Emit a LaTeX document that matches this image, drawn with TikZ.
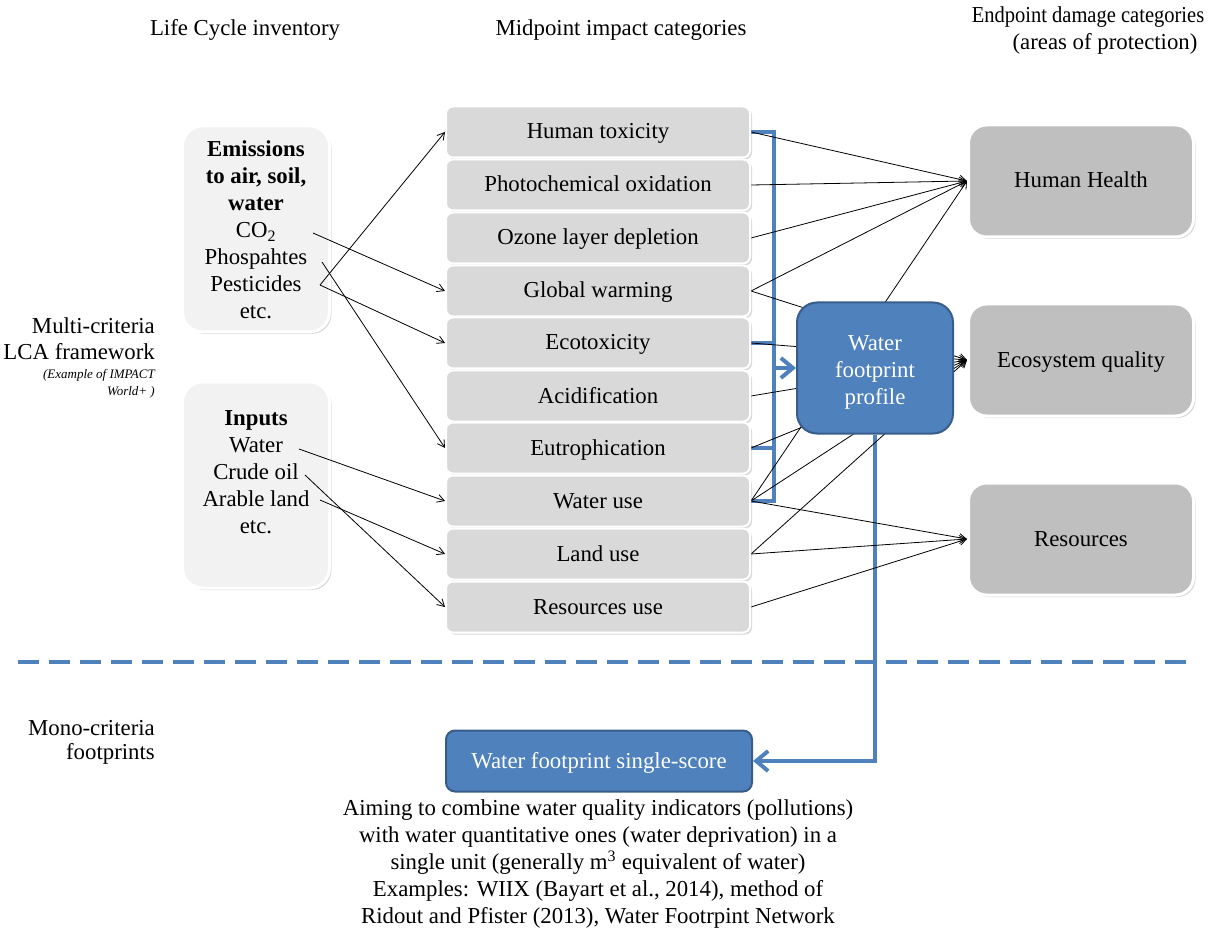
\documentclass[tikz,border=0pt]{standalone}
\usepackage{fontspec}
\setmainfont{Liberation Serif}
\usetikzlibrary{arrows.meta,shadows,calc}
\definecolor{wfblue}{HTML}{4F81BD}
\definecolor{wfdark}{HTML}{385D8A}
\definecolor{midgray}{HTML}{D9D9D9}
\definecolor{endgray}{HTML}{BFBFBF}
\definecolor{leftgray}{HTML}{F2F2F2}
\pgfdeclarelayer{bgA}
\pgfdeclarelayer{bgB}
\pgfsetlayers{bgA,bgB,main}
\begin{document}
\begin{tikzpicture}[x=1pt,y=-1pt,
  font=\fontsize{22.8}{27}\selectfont,
  shad/.style={drop shadow={shadow xshift=2pt,shadow yshift=-2pt,opacity=0.3}},
  midbox/.style={rectangle, rounded corners=7pt, fill=midgray, draw=white, line width=2pt,
    minimum width=304pt, minimum height=51pt, inner sep=0pt, text height=17.5pt, text depth=3.5pt, shad},
  leftbox/.style={rectangle, rounded corners=20pt, fill=leftgray, draw=white, line width=3pt,
    minimum width=147pt, minimum height=206pt, inner sep=0pt, shad},
  endbox/.style={rectangle, rounded corners=18pt, fill=endgray, draw=white, line width=3pt,
    minimum width=225pt, minimum height=112pt, inner sep=0pt, text height=17.5pt, text depth=3.5pt, shad},
  bluebox/.style={rectangle, fill=wfblue, draw=wfdark, line width=2pt, text=white, align=center, inner sep=0pt},
  conn/.style={draw=black, line width=0.8pt, -{Straight Barb[length=7pt,width=8pt]}},
  blueline/.style={draw=wfblue, line width=4pt},
  bluearrow/.style={blueline, -{Straight Barb[length=12pt,width=20pt]}},
  lbl/.style={inner sep=0pt, align=center}
]
\useasboundingbox (0,0) rectangle (1232,933);

% headings
\node[lbl] (h1) at (245,30) {Life Cycle inventory};
\node[lbl] (h2) at (621,30) {Midpoint impact categories};
\node[lbl] (h3) at (1088,17) {\scalebox{0.9}[1]{Endpoint damage categories}};
\node[lbl] (h4) at (1105,44) {(areas of protection)};

% side labels
\node[lbl, anchor=east] (mc1) at (155,326) {Multi-criteria};
\node[lbl, anchor=east] (mc2) at (155,352) {LCA framework};
\node[lbl, anchor=east, font=\fontsize{13}{16}\selectfont\itshape] (mc3) at (155,375) {(Example of IMPACT};
\node[lbl, anchor=east, font=\fontsize{13}{16}\selectfont\itshape] (mc4) at (155,392) {World+ )};
\node[lbl, anchor=east] (mo1) at (155,728) {Mono-criteria};
\node[lbl, anchor=east] (mo2) at (155,754) {footprints};

% left boxes
\node[leftbox] (em) at (256,229) {};
\node[lbl] (emt) at (256,230) {\textbf{Emissions}\\\textbf{to air, soil,}\\\textbf{water}\\CO\textsubscript{2}\\Phospahtes\\Pesticides\\etc.};
\node[leftbox] (in) at (256,485) {};
\node[lbl] (int) at (256,472) {\textbf{Inputs}\\Water\\Crude oil\\Arable land\\etc.};

\coordinate (sCO) at (313,233);
\coordinate (sPh) at (322,262);
\coordinate (sPe) at (320,285);
\coordinate (sWa) at (299,449);
\coordinate (sCr) at (305,475);
\coordinate (sAr) at (320,500);

% midpoint boxes
\node[midbox] (m1) at (598,132) {Human toxicity};
\node[midbox] (m2) at (598,185) {Photochemical oxidation};
\node[midbox] (m3) at (598,238) {Ozone layer depletion};
\node[midbox] (m4) at (598,291) {Global warming};
\node[midbox] (m5) at (598,343) {Ecotoxicity};
\node[midbox] (m6) at (598,396) {Acidification};
\node[midbox] (m7) at (598,448) {Eutrophication};
\node[midbox] (m8) at (598,501) {Water use};
\node[midbox] (m9) at (598,554) {Land use};
\node[midbox] (m10) at (598,607) {Resources use};

% endpoint boxes
\node[endbox] (hh) at (1081,181) {Human Health};
\node[endbox] (eq) at (1081,360) {Ecosystem quality};
\node[endbox] (res) at (1081,539) {Resources};

% water footprint profile
\node[bluebox, rounded corners=20pt, minimum width=156pt, minimum height=131pt] (wfp) at (875,368) {};
\node[lbl, text=white] (wfpt) at (875,372) {Water\\footprint\\profile};

% single score
\node[bluebox, rounded corners=9pt, minimum width=306pt, minimum height=61pt] (ss) at (599,761) {};
\node[lbl, text=white] (sst) at (599,763) {Water footprint single-score};

% left arrows
\draw[conn] (sCO) -- (m4.west);
\draw[conn] (sPe) -- (m1.west);
\draw[conn] (sPe) -- (m5.west);
\draw[conn] (sPh) -- (m7.west);
\draw[conn] (sWa) -- (m8.west);
\draw[conn] (sCr) -- (m10.west);
\draw[conn] (sAr) -- (m9.west);

% blue bracket (under black lines)
\begin{pgfonlayer}{bgA}
\draw[blueline] (m1.east) -- ++(23,0) |- (m8.east);
\draw[blueline] (m5.east) -- ++(23,0);
\draw[blueline] (m7.east) -- ++(23,0);
\draw[bluearrow] (wfp.south) -- (wfp.south |- ss.east) -- (ss.east);
\end{pgfonlayer}

% black connectors to endpoints (behind water footprint profile)
\begin{pgfonlayer}{bgB}
\draw[conn] (m1.east) -- (hh.west);
\draw[conn] (m2.east) -- (hh.west);
\draw[conn] (m3.east) -- (hh.west);
\draw[conn] (m4.east) -- (hh.west);
\draw[conn] (m8.east) -- (hh.west);
\draw[conn] (m4.east) -- (eq.west);
\draw[conn] (m5.east) -- (eq.west);
\draw[conn] (m6.east) -- (eq.west);
\draw[conn] (m7.east) -- (eq.west);
\draw[conn] (m8.east) -- (eq.west);
\draw[conn] (m9.east) -- (eq.west);
\draw[conn] (m8.east) -- (res.west);
\draw[conn] (m9.east) -- (res.west);
\draw[conn] (m10.east) -- (res.west);
\end{pgfonlayer}

% arrow from bracket into profile
\coordinate (bk) at (773,368);
\draw[bluearrow] (bk) -- (wfp.west |- bk);

% dashed separator
\coordinate (d1) at (18,662);
\coordinate (d2) at (1192,662);
\draw[wfblue, line width=4pt, dash pattern=on 21pt off 10pt] (d1) -- (d2);

% bottom text
\node[lbl, font=\fontsize{22.8}{26.8}\selectfont] (bt) at (598,864) {Aiming to combine water quality indicators (pollutions)\\with water quantitative ones (water deprivation) in a\\single unit (generally m\textsuperscript{3} equivalent of water)\\Examples: WIIX (Bayart et al., 2014), method of\\Ridout and Pfister (2013), Water Footrpint Network};
\end{tikzpicture}
\end{document}
